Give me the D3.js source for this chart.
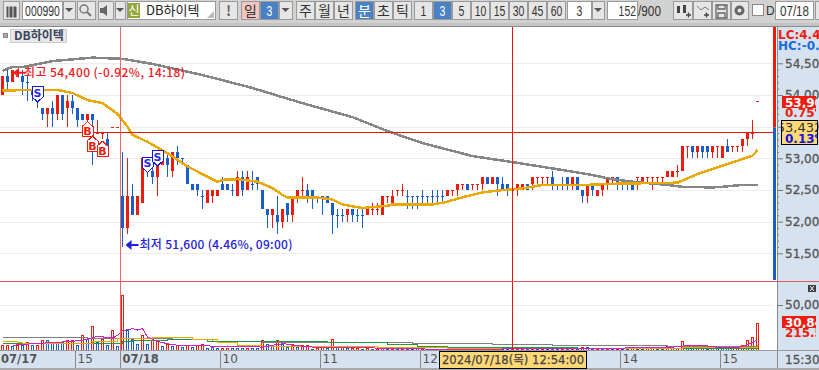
<!DOCTYPE html>
<html>
<head>
<meta charset="utf-8">
<script src="https://cdn.jsdelivr.net/npm/d3@7"></script>
<style>
html, body { margin: 0; padding: 0; background: #fff; overflow: hidden; }
svg { display: block; }
text { font-family: "DejaVu Sans", "Noto Sans CJK KR", sans-serif; }
.kr { font-family: "Noto Sans CJK KR", sans-serif; }
.tb { font-family: "Liberation Sans", "Noto Sans CJK KR", sans-serif; font-size: 15px; fill: #333; }
</style>
</head>
<body>
<svg id="chart" width="819" height="370"></svg>
<script>
// candles, 3 minute bars
let opens = [54000,54300,54200,54300,54300,54200,54100,54000,53800,53700,
  53800,53700,54000,53800,53900,53800,53700,53600,53700,53400,
  53400,53300,53500,53500,52400,51900,52400,52100,52300,52900,
  52800,52700,52900,53000,52800,53100,53000,52900,52600,52600,
  52400,52300,52400,52400,52600,52600,52500,52400,52700,52500,
  52600,52700,52500,52200,52100,52100,52000,52300,52100,52400,
  52500,52500,52500,52400,52400,52400,52300,52100,52100,52100,
  52200,52100,52100,52100,52200,52200,52100,52400,52300,52500,
  52500,52400,52400,52400,52400,52400,52400,52400,52400,52400,
  52500,52500,52600,52600,52600,52600,52600,52700,52600,52700,
  52600,52600,52500,52500,52500,52600,52600,52700,52700,52700,
  52700,52600,52600,52700,52600,52700,52500,52400,52600,52400,
  52500,52600,52700,52700,52600,52600,52600,52700,52600,52700,
  52700,52700,52700,52700,52700,52800,52800,53200,53200,53100,
  53200,53200,53100,53200,53000,53200,53200,53200,53200,53300,53400,53900];
let highs = [54300,54400,54400,54400,54400,54300,54100,54000,53800,53800,
  53900,54000,54000,54000,54000,53800,53700,53700,53700,53600,
  53400,53400,53500,53500,53100,53000,52600,52400,53000,53000,
  53000,52900,53100,53100,53100,53200,53000,52900,52600,52600,
  52500,52500,52500,52500,52700,52600,52600,52800,52800,52800,
  52800,52700,52500,52200,52200,52400,52200,52300,52400,52500,
  52700,52600,52500,52400,52400,52400,52300,52200,52200,52200,
  52200,52200,52200,52200,52300,52300,52400,52400,52500,52500,
  52600,52500,52400,52400,52500,52400,52500,52500,52500,52500,
  52500,52600,52600,52600,52600,52600,52700,52700,52700,52700,
  52700,52600,52500,52600,52600,52600,52700,52700,52700,52700,
  52800,52600,52700,52700,52700,52700,52500,52600,52600,52500,
  52600,52700,52700,52700,52600,52600,52600,52700,52700,52700,
  52700,52700,52700,52800,52800,52900,53200,53200,53200,53200,
  53200,53200,53200,53200,53200,53300,53200,53200,53300,53400,53600,53900];
let lows = [54000,54100,54200,54300,54000,53900,53900,53800,53600,53500,
  53500,53600,53600,53500,53700,53500,53600,53500,52900,53400,
  53300,53200,53500,53500,51600,51800,52100,52100,52300,52700,
  52600,52400,52900,52700,52700,52900,52900,52600,52500,52400,
  52200,52300,52300,52400,52500,52500,52400,52400,52400,52500,
  52500,52500,52200,51900,51900,51800,51900,52000,52000,52300,
  52400,52300,52200,52300,52100,52300,51800,51900,52000,52000,
  52000,52000,51900,52100,52100,52100,52100,52300,52300,52400,
  52400,52200,52200,52200,52300,52300,52300,52300,52300,52400,
  52400,52400,52500,52500,52500,52500,52500,52600,52600,52400,
  52500,52400,52400,52400,52500,52500,52500,52600,52600,52600,
  52500,52500,52500,52500,52500,52500,52300,52300,52400,52400,
  52400,52500,52600,52500,52500,52500,52500,52500,52600,52600,
  52500,52600,52600,52700,52700,52700,52800,53000,53000,53000,
  53000,53000,53000,53000,53000,53100,53100,53100,53100,53200,53300,53900];
let closes = [54300,54200,54400,54300,54200,54200,54000,53900,53700,53800,
  53700,54000,53700,53900,53800,53600,53600,53700,53600,53400,
  53400,53200,53500,53500,51900,52400,52100,52400,53000,52900,
  52700,52900,53000,52900,53100,53000,53000,52600,52500,52500,
  52400,52500,52500,52500,52500,52500,52500,52700,52500,52700,
  52600,52600,52200,52100,52200,52000,52200,52100,52400,52500,
  52500,52400,52400,52400,52400,52300,52100,52100,52100,52200,
  52100,52100,52100,52200,52200,52200,52400,52400,52400,52500,
  52500,52400,52400,52400,52400,52400,52400,52400,52400,52500,
  52500,52600,52600,52500,52600,52600,52700,52600,52700,52600,
  52500,52500,52500,52600,52600,52500,52700,52700,52700,52700,
  52600,52600,52600,52600,52700,52500,52400,52600,52500,52500,
  52600,52700,52700,52600,52600,52600,52500,52700,52700,52700,
  52700,52700,52700,52800,52800,52800,53200,53200,53100,53200,
  53100,53100,53200,53200,53200,53100,53200,53200,53300,53400,53400,53900];
// flat bars drawn blue, all other flat bars are red
let flatBlue = [5,29,36,40,46,50,63,64,67,68,71,72,81,82,83,84,85,86,87,88,111,112,124,125];

// price moving averages: bar index, price
let maOrangeIdx = [0,6,11,14,17,20,22,23,25,26,29,33,37,39,43,44,47,51,54,56,57,63,66,68,72,74,77,78,86,89,92,96,99,104,108,117,121,127,135,139,144,147,150,151];
let maOrangeVal = [54070,54080,54080,54030,53920,53870,53760,53700,53500,53370,53260,53080,52870,52790,52630,52660,52670,52630,52530,52420,52380,52380,52350,52270,52215,52230,52250,52270,52270,52315,52385,52460,52490,52525,52580,52580,52595,52605,52615,52750,52885,52960,53040,53130];
let maGrayIdx = [0,2,4,10,18,24,30,40,50,60,70,77,84,94,102,110,117,122,126,133,136,142,144,148,151];
let maGrayVal = [54380,54445,54440,54535,54590,54570,54490,54315,54110,53870,53650,53430,53240,53035,52940,52840,52750,52670,52630,52580,52550,52540,52550,52580,52580];

// volume
let volumes = [5900,5900,4100,5900,5900,8900,5200,5900,11500,11500,
  8900,8900,8900,10700,10700,5900,17000,12600,26700,8900,
  12600,5900,22600,4100,60700,22600,12600,7000,16300,7000,
  10700,10700,4100,7000,4100,5900,3300,5200,3300,5200,
  7000,2600,3000,1900,1900,2600,2200,2200,2200,2200,
  2200,2200,10700,7000,4100,11500,7000,3300,5900,3300,
  5200,5200,1500,2200,3000,2200,11900,3300,3300,1900,
  2600,2200,1500,1800,1200,1500,1800,1400,1200,1600,
  1300,1500,1200,1700,1400,1200,1500,1300,1600,1200,
  1400,1200,1600,1300,1200,1500,1700,1300,1200,1400,
  1300,1200,1500,1400,1200,1600,1300,1500,1200,1400,
  1300,1200,1600,1400,1300,1200,3000,3000,1400,1200,
  1500,1300,1400,1200,1500,1300,3000,1300,1200,3000,
  3000,1400,1300,4100,2600,2600,10400,2600,2200,5900,
  5900,1500,4800,3300,2600,3000,3000,3000,5200,11500,14400,30400];
let volDir = ("rrbrbrbrrb"+"bbbrrbrbrb"+"rbrbrbbbrb"+"rrbrbrbrbr"+"rbbbrrbbbr"+"bbrbbrbbrb"+"rrbrrbrbrb"+
  "rrbrbrrbrb"+"rbbbrbrbbr"+"brbbrbrbrb"+"bbrrrbrbrb"+"bbrbrbrbbr"+"brbrbbrbbr"+"bbbrbbrbbr"+"rbrbbbrrrrrr").split("");

let volGrayIdx = [0,17,24,34,42,52,70,82,98,104,110,133,151];
let volGrayVal = [13700,13300,12600,11500,10000,8100,7800,7000,5900,5900,4800,4100,3300];
let volOrangeIdx = [0,3,4,16,18,23,30,33,38,43,47,52,72,75,89,135,136,150,151];
let volOrangeVal = [10000,8100,7000,7000,8900,13300,14400,13700,11500,7800,5200,3700,4400,2600,2200,2200,3000,3000,5200];
let volGreenIdx = [0,15,24,26,33,41,45,47,65,70,77,81,83,89,95,114,115,151];
let volGreenVal = [7400,7000,9300,10700,11500,10000,8900,8900,7800,8100,5900,5900,4400,3300,2600,2600,1500,1500];
let volPinkIdx = [2,6,12,16,19,22,23,24,26,27,28,29,31,33,35,40,43,52,54,56,58,60,62,71,89,133,136,140,143,147,149,151];
let volPinkVal = [5200,7000,8900,10700,15200,13300,16300,21500,23700,22200,23700,14400,9600,7000,5200,5200,3700,3300,5200,7000,5900,4100,3300,2600,600,2600,4400,5200,3000,2600,5900,11500];

// trade signals
let sellIdx = [7,29,31], sellPrice = [53890,52780,52880];
let buyIdx = [17,18,20], buyPrice = [53580,53350,53270];

// time axis
let dayTicks = [0,15,24,44,64,84,124,144];
let dayLabels = ["07/17","15","07/18","10","11","12","14","15"];
let priceTicks = [51500,52000,52500,53000,53500,54000,54500];
let volTicks = [50000];
let prevClose = 53500;

const RED = "#ee1c0e", BLUE = "#1a5fc8", AXISBG = "#d6e2f0", LINE = "#8a8a8a";

let svg = d3.select("#chart");
let x = d3.scaleLinear().domain([0, 151]).range([2.5, 757.5]);
let y = d3.scaleLinear().domain([51500, 54500]).range([253.3, 63.3]);
let vy = d3.scaleLinear().domain([0, 50000]).range([350, 305]);

// panes
svg.append("rect").attr("x", 0).attr("y", 27).attr("width", 777).attr("height", 324).attr("fill", "#fff");
svg.append("rect").attr("x", 777).attr("y", 27).attr("width", 42).attr("height", 343).attr("fill", AXISBG);
svg.append("rect").attr("x", 0).attr("y", 351).attr("width", 777).attr("height", 17).attr("fill", AXISBG);
svg.append("rect").attr("x", 0).attr("y", 368).attr("width", 819).attr("height", 2).attr("fill", "#a8a8a8");

// grid
let grid = svg.append("g").attr("shape-rendering", "crispEdges");
grid.selectAll("line.p").data(priceTicks).enter().append("line").attr("class", "p")
  .attr("x1", 0).attr("x2", 773).attr("y1", d => Math.round(y(d)) + 0.5).attr("y2", d => Math.round(y(d)) + 0.5)
  .attr("stroke", "#ececec");
grid.selectAll("line.v").data(volTicks).enter().append("line").attr("class", "v")
  .attr("x1", 0).attr("x2", 773).attr("y1", d => vy(d) + 0.5).attr("y2", d => vy(d) + 0.5)
  .attr("stroke", "#ececec");

// up/down strip next to the axis
svg.append("rect").attr("x", 773).attr("y", 27).attr("width", 3).attr("height", y(prevClose) - 26).attr("fill", RED);
svg.append("rect").attr("x", 773).attr("y", y(prevClose) + 1).attr("width", 3).attr("height", 279 - y(prevClose)).attr("fill", BLUE);

// volume bars
let vbars = svg.append("g").attr("shape-rendering", "crispEdges");
vbars.selectAll("rect").data(volumes).enter().append("rect")
  .attr("x", (d, i) => x(i) - 1)
  .attr("width", 2)
  .attr("y", d => Math.round(vy(d)) + 0.5)
  .attr("height", d => Math.max(1, 349.5 - Math.round(vy(d))))
  .attr("fill", "#fff")
  .attr("stroke", (d, i) => volDir[i] == "r" ? RED : BLUE);

// volume moving averages
function drawLine(idx, vals, yScale, color, width, curve) {
  let gen = d3.line().x(d => x(d)).y((d, i) => yScale(vals[i])).curve(curve || d3.curveLinear);
  svg.append("path").attr("d", gen(idx)).attr("fill", "none").attr("stroke", color).attr("stroke-width", width)
    .attr("shape-rendering", "crispEdges");
}
drawLine(volGrayIdx, volGrayVal, vy, "#808080", 1, d3.curveStepAfter);
drawLine(volGreenIdx, volGreenVal, vy, "#1f9a3c", 1, d3.curveStepAfter);
drawLine(volOrangeIdx, volOrangeVal, vy, "#eaa800", 1, d3.curveStepAfter);
drawLine(volPinkIdx, volPinkVal, vy, "#d420c0", 1);

// candles
function candleColor(i) {
  if (closes[i] > opens[i]) return RED;
  if (closes[i] < opens[i]) return BLUE;
  return flatBlue.indexOf(i) >= 0 ? BLUE : RED;
}
let candles = svg.append("g").attr("shape-rendering", "crispEdges");
candles.selectAll("line").data(opens).enter().append("line")
  .attr("x1", (d, i) => x(i)).attr("x2", (d, i) => x(i))
  .attr("y1", (d, i) => y(highs[i])).attr("y2", (d, i) => y(lows[i]))
  .attr("stroke", (d, i) => candleColor(i));
candles.selectAll("rect").data(opens).enter().append("rect")
  .attr("x", (d, i) => x(i) - 1.5)
  .attr("width", 3)
  .attr("y", (d, i) => y(Math.max(d, closes[i])))
  .attr("height", (d, i) => Math.max(1, Math.abs(y(d) - y(closes[i]))))
  .attr("fill", (d, i) => candleColor(i));

// price moving averages
drawLine(maGrayIdx, maGrayVal, y, "#868686", 2.5);
drawLine(maOrangeIdx, maOrangeVal, y, "#eaa800", 2.5);

// crosshair and day separator
let cross = svg.append("g").attr("shape-rendering", "crispEdges").attr("stroke", "#f01010");
cross.append("line").attr("x1", 120.5).attr("x2", 120.5).attr("y1", 27).attr("y2", 351).attr("stroke", "#e86a6a");
cross.append("line").attr("x1", x(102) - 0.5).attr("x2", x(102) - 0.5).attr("y1", 27).attr("y2", 351);
cross.append("line").attr("x1", 0).attr("x2", 773).attr("y1", 132.5).attr("y2", 132.5);

// signals
let sells = svg.append("g").selectAll("g").data(sellIdx).enter().append("g")
  .attr("transform", (d, i) => "translate(" + x(d) + "," + y(sellPrice[i]) + ")");
sells.append("path").attr("d", "M0,0 L5.5,-5 L5.5,-15 L-5.5,-15 L-5.5,-5 Z")
  .attr("fill", "#fff").attr("stroke", "#1414d8").attr("shape-rendering", "crispEdges");
sells.append("text").attr("y", -5).attr("text-anchor", "middle").attr("font-size", 11)
  .attr("font-weight", "bold").attr("fill", "#2a2ad8").text("S");
let buys = svg.append("g").selectAll("g").data(buyIdx).enter().append("g")
  .attr("transform", (d, i) => "translate(" + x(d) + "," + y(buyPrice[i]) + ")");
buys.append("path").attr("d", "M0,0 L5.5,5 L5.5,15 L-5.5,15 L-5.5,5 Z")
  .attr("fill", "#fff").attr("stroke", RED).attr("shape-rendering", "crispEdges");
buys.append("text").attr("y", 13.5).attr("text-anchor", "middle").attr("font-size", 11)
  .attr("font-weight", "bold").attr("fill", RED).text("B");

// high and low notes
function note(i, price, dx, dy, gap, width, color, label) {
  let px = x(i) + dx, py = y(price) + dy;
  let g = svg.append("g");
  g.append("path").attr("d", "M" + px + "," + py + " l6,-5 v4 h7 v2 h-7 v4 Z").attr("fill", color);
  g.append("text").attr("class", "kr").attr("x", px + gap).attr("y", py + 4.5)
    .attr("font-size", 12).attr("fill", color).attr("font-weight", 500)
    .attr("textLength", width).attr("lengthAdjust", "spacing").text(label);
}
note(2, 54400, 0.5, 3, 11, 161, "#f02020", "최고 54,400 (-0.92%, 14:18)");
note(24, 51600, 3, -2, 14, 153, "#2020e0", "최저 51,600 (4.46%, 09:00)");

// right axes
let priceAxis = d3.axisRight(y).tickValues(d3.range(51500, 54501, 100))
  .tickFormat(d => d % 500 == 0 ? d3.format(",")(d) : "").tickSize(0);
let ga = svg.append("g").attr("transform", "translate(777,0)").call(priceAxis);
ga.select(".domain").remove();
ga.selectAll(".tick line").attr("x2", d => d % 500 == 0 ? 6 : 2).attr("stroke", "#777");
ga.selectAll("text").attr("x", 8).attr("font-size", 12).attr("fill", "#555").attr("stroke", "#555").attr("stroke-width", 0.3).attr("font-family", "DejaVu Sans");
let va = d3.axisRight(vy).tickValues(volTicks).tickFormat(d3.format(",")).tickSize(6);
let gv = svg.append("g").attr("transform", "translate(777,0)").call(va);
gv.select(".domain").remove();
gv.selectAll(".tick line").attr("stroke", "#777");
gv.selectAll("text").attr("x", 8).attr("font-size", 12).attr("fill", "#555").attr("stroke", "#555").attr("stroke-width", 0.3).attr("font-family", "DejaVu Sans");
svg.append("line").attr("x1", 777.5).attr("x2", 777.5).attr("y1", 27).attr("y2", 368).attr("stroke", "#8a8a8a");
svg.append("line").attr("x1", 0).attr("x2", 819).attr("y1", 281.5).attr("y2", 281.5).attr("stroke", "#e05a5a").attr("shape-rendering", "crispEdges");
svg.append("line").attr("x1", 0).attr("x2", 819).attr("y1", 350.5).attr("y2", 350.5).attr("stroke", "#9a9a9a");

// axis tags
svg.append("text").attr("x", 778).attr("y", 39).attr("font-size", 12).attr("font-weight", "bold").attr("fill", RED).text("LC:4.46%");
svg.append("text").attr("x", 778).attr("y", 50).attr("font-size", 12).attr("font-weight", "bold").attr("fill", "#1a6ae0").text("HC:-0.92%");

let tagClip = svg.append("clipPath").attr("id", "tc");
tagClip.append("rect").attr("x", 782).attr("y", 90).attr("width", 34).attr("height", 250);
function redTag(top, main, sub) {
  svg.append("rect").attr("x", 782).attr("y", top).attr("width", 34).attr("height", 12).attr("fill", RED);
  svg.append("text").attr("clip-path", "url(#tc)").attr("x", 785).attr("y", top + 10.5).attr("font-size", 12).attr("fill", "#fff").attr("font-weight", "bold").text(main);
  svg.append("text").attr("clip-path", "url(#tc)").attr("x", 785).attr("y", top + 21).attr("font-size", 12).attr("fill", RED).attr("font-weight", "bold").text(sub);
}
redTag(96, "53,900", "0.75%");
redTag(316, "30,840", "215.5");

let clip = svg.append("clipPath").attr("id", "yc");
clip.append("rect").attr("x", 782).attr("y", 120).attr("width", 35).attr("height", 25);
svg.append("rect").attr("x", 781.5).attr("y", 120.5).attr("width", 36).attr("height", 24)
  .attr("fill", "#ffd978").attr("stroke", "#000");
svg.append("text").attr("clip-path", "url(#yc)").attr("x", 799.5).attr("y", 131.5).attr("text-anchor", "middle")
  .attr("font-size", 13).attr("fill", "#333").text("53,432");
svg.append("text").attr("clip-path", "url(#yc)").attr("x", 785).attr("y", 142.5)
  .attr("font-size", 12).attr("font-weight", "bold").attr("fill", "#1010e0").text("0.13%");

svg.append("rect").attr("x", 808).attr("y", 285).attr("width", 8).attr("height", 7).attr("fill", "#3c3c3c");
svg.append("path").attr("d", "M810,286 l4,5 M814,286 l-4,5").attr("stroke", "#fff").attr("stroke-width", 1);

// time axis
let tickG = svg.append("g").attr("shape-rendering", "crispEdges");
tickG.selectAll("line").data(dayTicks.slice(1)).enter().append("line")
  .attr("x1", d => x(d) - 2).attr("x2", d => x(d) - 2).attr("y1", 351).attr("y2", 368).attr("stroke", "#8a8a8a");
svg.selectAll("text.day").data(dayLabels).enter().append("text").attr("class", "day")
  .attr("x", (d, i) => x(dayTicks[i]) + (i == 0 ? -1.5 : 0))
  .attr("y", 363).attr("font-size", d => d.length > 2 ? 11.5 : 12)
  .attr("font-weight", d => d.length > 2 ? "bold" : "normal")
  .attr("fill", "#555").text(d => d);
svg.append("text").attr("x", 785).attr("y", 364).attr("font-size", 12).attr("fill", "#555").attr("stroke", "#555").attr("stroke-width", 0.3).text("15:30");
svg.append("rect").attr("x", 439.5).attr("y", 351.5).attr("width", 147).attr("height", 17)
  .attr("fill", "#ffd978").attr("stroke", "#000");
svg.append("text").attr("x", 442).attr("y", 364).attr("font-size", 12).attr("fill", "#444").attr("stroke", "#444").attr("stroke-width", 0.25)
  .attr("textLength", 142).attr("lengthAdjust", "spacingAndGlyphs").text("2024/07/18(목) 12:54:00");

// series name
svg.append("rect").attr("x", 3.5).attr("y", 33.5).attr("width", 4).attr("height", 4).attr("fill", "#aaa").attr("stroke", "#888");
svg.append("rect").attr("x", 10.5).attr("y", 29.5).attr("width", 56).attr("height", 13).attr("fill", "#e8e8e8").attr("stroke", "#ccc");
svg.append("text").attr("class", "kr").attr("x", 14).attr("y", 40).attr("font-size", 12).attr("font-weight", 700)
  .attr("fill", "#3a4560").text("DB하이텍");

// toolbar
svg.append("rect").attr("width", 819).attr("height", 23).attr("fill", "#d2d2d2");
svg.append("rect").attr("y", 23).attr("width", 819).attr("height", 3).attr("fill", "#c4c4c4");
svg.append("rect").attr("y", 26).attr("width", 819).attr("height", 1).attr("fill", "#8a8a8a");

let toolbarButtons = [
  ["", 3, 19, "b"], ["000990", 22, 62, "w"], ["", 63, 75, "b"], ["", 77, 95, "b"], ["", 98, 113, "b"], ["", 115, 125, "b"],
  ["", 127, 215, "w"], ["!", 219, 237, "b"], ["일", 241, 259, "p"], ["3", 260, 278, "a"], ["", 279, 292, "b"],
  ["주", 296, 314, "b"], ["월", 315, 333, "b"], ["년", 334, 352, "b"], ["분", 355, 373, "a"], ["초", 374, 392, "b"], ["틱", 393, 411, "b"],
  ["1", 414, 432, "b"], ["3", 433, 451, "a"], ["5", 452, 470, "b"], ["10", 471, 489, "b"], ["15", 490, 508, "b"],
  ["30", 509, 527, "b"], ["45", 528, 546, "b"], ["60", 547, 565, "b"], ["3", 567, 591, "w"], ["", 592, 604, "b"],
  ["152", 607, 637, "w"], ["", 673, 692, "b"], ["", 693, 711, "b"], ["", 712, 730, "b"], ["", 731, 748, "b"],
  ["07/18", 775, 813, "w"], ["", 815, 825, "b"]
];
let fills = { b: "#e6e6e6", w: "#fff", p: "#f4c6c0", a: "#4a80c4" };
let tb = svg.append("g").attr("shape-rendering", "crispEdges");
tb.selectAll("rect").data(toolbarButtons).enter().append("rect")
  .attr("x", d => d[1] + 0.5).attr("y", 1.5).attr("width", d => d[2] - d[1]).attr("height", 18)
  .attr("fill", d => fills[d[3]]).attr("stroke", "#9a9a9a");
let isNum = s => /[0-9]/.test(s);
let tbl = svg.selectAll("text.tbl").data(toolbarButtons.filter(d => d[0] != "" )).enter().append("text")
  .attr("class", "tb tbl")
  .attr("x", d => d[0] == "152" ? 636 : (d[1] + d[2]) / 2 + 0.5)
  .attr("y", 15.5)
  .attr("text-anchor", d => d[0] == "152" ? "end" : "middle")
  .style("fill", d => d[3] == "a" ? "#fff" : (d[0] == "!" ? "#666" : "#333"))
  .style("font-weight", d => d[0] == "!" ? "bold" : "normal")
  .style("font-size", d => isNum(d[0]) ? "15px" : "14px")
  .style("font-family", d => isNum(d[0]) ? "'Liberation Sans'" : "'Noto Sans CJK KR'")
  .text(d => d[0]);
tbl.filter(d => isNum(d[0]))
  .attr("textLength", d => d[0].length * 5.8).attr("lengthAdjust", "spacingAndGlyphs");

// name box
svg.append("rect").attr("x", 128).attr("y", 3).attr("width", 12).attr("height", 15).attr("fill", "#95a73a");
svg.append("text").attr("class", "kr").attr("x", 134).attr("y", 15).attr("text-anchor", "middle").attr("font-size", 12).attr("fill", "#fff").text("신");
svg.append("text").attr("class", "kr").attr("x", 146).attr("y", 15).attr("font-size", 13).attr("fill", "#222").text("DB하이텍");
svg.append("path").attr("d", "M214,18 L214,11 L207,18 Z").attr("fill", "#bbb");
svg.append("text").attr("class", "tb").attr("x", 638).attr("y", 15.5).attr("textLength", 23).attr("lengthAdjust", "spacingAndGlyphs").text("/900");
svg.append("rect").attr("x", 752.5).attr("y", 4.5).attr("width", 11).attr("height", 11).attr("fill", "#fff").attr("stroke", "#888");
svg.append("text").attr("class", "tb").attr("x", 766).attr("y", 15).style("font-size", "12px").text("D");

// toolbar glyphs
let arrows = [69, 285.5, 598, 120];
svg.selectAll("path.dd").data(arrows).enter().append("path").attr("class", "dd")
  .attr("d", d => "M" + (d - 4) + ",8 h8 l-4,4 Z").attr("fill", "#555");
svg.append("path").attr("d", "M6,6 h11 v12 h-11 Z M9,6 v12 M13,6 v12").attr("fill", "#555").attr("stroke", "#e6e6e6").attr("stroke-width", 1);
svg.append("circle").attr("cx", 84).attr("cy", 9).attr("r", 4).attr("fill", "none").attr("stroke", "#777").attr("stroke-width", 1.5);
svg.append("path").attr("d", "M87,12 l4,4").attr("stroke", "#777").attr("stroke-width", 2);
svg.append("path").attr("d", "M100,8 h3 l4,-3 v11 l-4,-3 h-3 Z").attr("fill", "#666");
svg.append("path").attr("d", "M677,6 h3 v7 h-3 Z M683,5 h3 v8 h-3 Z").attr("fill", "#444");
svg.append("path").attr("d", "M686,15 h5 M688.5,12.5 v5").attr("stroke", "#444").attr("stroke-width", 1.3);
svg.append("path").attr("d", "M697,6 l4,4 l4,-3 l4,3").attr("fill", "none").attr("stroke", "#777");
svg.append("path").attr("d", "M704,15 h5 M706.5,12.5 v5").attr("stroke", "#444").attr("stroke-width", 1.3);
svg.append("path").attr("d", "M716,5 h11 v13 h-11 Z M718,5 v4 h7 v-4 M718,18 v-5 h7 v5").attr("fill", "none").attr("stroke", "#666").attr("stroke-width", 1.3);
svg.append("circle").attr("cx", 739.5).attr("cy", 10.5).attr("r", 3.5).attr("fill", "none").attr("stroke", "#666").attr("stroke-width", 3);
</script>
</body>
</html>
